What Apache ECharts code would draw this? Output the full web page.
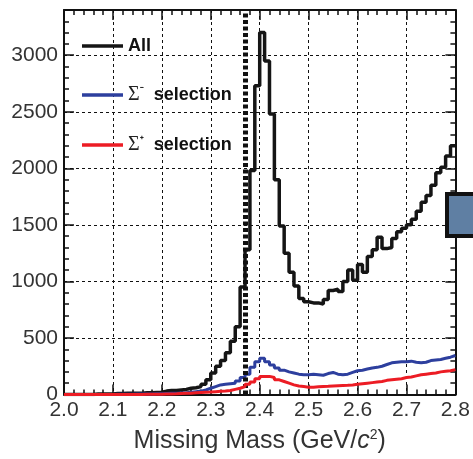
<!DOCTYPE html>
<html>
<head>
<meta charset="utf-8">
<script src="https://cdn.jsdelivr.net/npm/echarts@6/dist/echarts.min.js"></script>
<style>
  html, body { margin: 0; padding: 0; background: #fff; }
  #chart { width: 473px; height: 459px; }
</style>
</head>
<body>
<div id="chart"></div>
<script>
// Histogram binning: 80 bins of 0.01 GeV/c^2 starting at 2.00
const binStart = 2.0;
const binWidth = 0.01;

// Counts per bin, all events
const allCounts = [
  0, 0, 0, 0, 0, 0, 5, 5, 5, 5,
  8, 8, 10, 10, 12, 12, 15, 15, 18, 20,
  30, 35, 35, 40, 45, 55, 60, 70, 90, 130,
  190, 250, 300, 370, 470, 600, 950, 1280, 1980, 2730,
  3200, 2950, 2480, 1900, 1490, 1250, 1080, 960, 850, 820,
  810, 810, 800, 840, 920, 930, 910, 1000, 1100, 1010,
  1150, 1080, 1220, 1280, 1390, 1290, 1300, 1380, 1440, 1470,
  1500, 1550, 1620, 1700, 1760, 1850, 1960, 2010, 2110, 2200
];

// Counts per bin, Sigma- selection
const sigmaMinusCounts = [
  0, 0, 0, 0, 0, 0, 0, 0, 0, 0,
  2, 2, 3, 3, 4, 4, 5, 5, 6, 6,
  8, 10, 12, 14, 16, 20, 25, 30, 40, 55,
  70, 85, 90, 95, 100, 120, 150, 180, 240, 290,
  320, 290, 260, 235, 215, 200, 190, 180, 175, 175,
  180, 175, 170, 185, 195, 180, 175, 180, 195, 210,
  215, 225, 235, 240, 250, 265, 280, 285, 290, 290,
  295, 285, 280, 285, 300, 305, 310, 320, 330, 345
];

// Counts per bin, Sigma+ selection
const sigmaPlusCounts = [
  0, 0, 0, 0, 0, 0, 0, 0, 0, 0,
  0, 0, 0, 0, 0, 0, 2, 2, 3, 3,
  4, 5, 6, 8, 10, 12, 15, 18, 20, 22,
  25, 28, 30, 35, 45, 55, 70, 90, 110, 140,
  160, 160, 150, 130, 115, 100, 85, 75, 70, 65,
  65, 68, 70, 72, 75, 78, 80, 82, 85, 90,
  95, 100, 105, 110, 115, 125, 130, 135, 140, 150,
  155, 165, 175, 180, 185, 190, 200, 205, 210, 220
];

const seriesNames = ['All', 'Σ⁻ selection', 'Σ⁺ selection'];
const xTicks = ['2.0', '2.1', '2.2', '2.3', '2.4', '2.5', '2.6', '2.7', '2.8'];
const yTicks = [0, 500, 1000, 1500, 2000, 2500, 3000];
const cutValue = 2.37;

// Turn bin counts into step-line points (left edge of each bin, plus closing edge)
function toSteps(counts) {
  const pts = counts.map((c, i) => [+(binStart + i * binWidth).toFixed(3), c]);
  pts.push([+(binStart + counts.length * binWidth).toFixed(3), counts[counts.length - 1]]);
  return pts;
}

const labelFont = 'Liberation Sans';
const gridLine = { show: true, lineStyle: { color: '#111', type: [3, 3], width: 1 } };

const chart = echarts.init(document.getElementById('chart'), null, { renderer: 'canvas' });

chart.setOption({
  animation: false,
  backgroundColor: '#fff',
  grid: { left: 64, right: 16, top: 10, bottom: 59, containLabel: false },
  legend: {
    left: 77, top: 32, orient: 'vertical',
    itemWidth: 41, itemHeight: 14, itemGap: 30,
    icon: 'path://M0,6 L41,6 L41,9.5 L0,9.5 Z',
    data: seriesNames,
    formatter: function (name) {
      if (name === 'All') return '{b|All}';
      const sign = name.charAt(1);
      return '{s|Σ}{p|' + sign + '}{b|  selection}';
    },
    textStyle: {
      rich: {
        b: { fontFamily: labelFont, fontWeight: 'bold', fontSize: 18, color: '#111' },
        s: { fontFamily: 'Liberation Serif', fontSize: 20, color: '#222' },
        p: { fontFamily: labelFont, fontWeight: 'bold', fontSize: 11, color: '#222', verticalAlign: 'top', padding: [0, 0, 9, 0] }
      }
    }
  },
  xAxis: [
    {
      type: 'value', min: 2.0, max: 2.8, interval: 0.1, position: 'bottom',
      axisLine: { show: true, onZero: false, lineStyle: { color: '#111', width: 2 } },
      axisTick: { show: true, inside: true, length: 10, lineStyle: { color: '#111', width: 1.5 } },
      minorTick: { show: true, splitNumber: 5, length: 5, lineStyle: { color: '#111', width: 1.5 } },
      splitLine: gridLine,
      axisLabel: {
        margin: 5, fontFamily: labelFont, fontSize: 21, color: '#333',
        formatter: function (v) { return xTicks[Math.round((v - 2.0) * 10)]; }
      },
      name: '{t|Missing Mass (GeV/}{i|c}{sp|2}{t|)}',
      nameLocation: 'middle', nameGap: 34,
      nameTextStyle: {
        rich: {
          t: { fontFamily: labelFont, fontSize: 25, color: '#333' },
          i: { fontFamily: labelFont, fontStyle: 'italic', fontSize: 25, color: '#333' },
          sp: { fontFamily: labelFont, fontSize: 14, color: '#333', verticalAlign: 'top', padding: [0, 0, 12, 0] }
        }
      }
    },
    {
      type: 'value', min: 2.0, max: 2.8, interval: 0.1, position: 'top',
      axisLine: { show: true, onZero: false, lineStyle: { color: '#111', width: 2 } },
      axisTick: { show: true, inside: true, length: 10, lineStyle: { color: '#111', width: 1.5 } },
      minorTick: { show: true, splitNumber: 5, length: 5, lineStyle: { color: '#111', width: 1.5 } },
      splitLine: { show: false },
      axisLabel: { show: false }
    }
  ],
  yAxis: [
    {
      type: 'value', min: 0, max: 3400, interval: 500, position: 'left',
      axisLine: { show: true, onZero: false, lineStyle: { color: '#111', width: 2 } },
      axisTick: { show: true, inside: true, length: 10, lineStyle: { color: '#111', width: 1.5 } },
      minorTick: { show: true, splitNumber: 5, length: 5, lineStyle: { color: '#111', width: 1.5 } },
      splitLine: gridLine,
      axisLabel: {
        margin: 6, fontFamily: labelFont, fontSize: 21, color: '#333', showMaxLabel: false,
        formatter: function (v) { return yTicks.indexOf(v) >= 0 ? String(v) : ''; }
      }
    },
    {
      type: 'value', min: 0, max: 3400, interval: 500, position: 'right',
      axisLine: { show: true, onZero: false, lineStyle: { color: '#111', width: 2 } },
      axisTick: { show: true, inside: true, length: 10, lineStyle: { color: '#111', width: 1.5 } },
      minorTick: { show: true, splitNumber: 5, length: 5, lineStyle: { color: '#111', width: 1.5 } },
      splitLine: { show: false },
      axisLabel: { show: false }
    }
  ],
  series: [
    {
      name: seriesNames[0], type: 'line', step: 'end', symbol: 'none',
      data: toSteps(allCounts),
      lineStyle: { color: '#151515', width: 3.5 }, itemStyle: { color: '#151515' },
      z: 3,
      markLine: {
        silent: true, symbol: 'none', label: { show: false },
        lineStyle: { color: '#111', width: 5, type: [4, 2.5] },
        data: [{ xAxis: cutValue }]
      }
    },
    {
      name: seriesNames[1], type: 'line', step: 'end', symbol: 'none',
      data: toSteps(sigmaMinusCounts),
      lineStyle: { color: '#2d3f9e', width: 3 }, itemStyle: { color: '#2d3f9e' },
      z: 4
    },
    {
      name: seriesNames[2], type: 'line', step: 'end', symbol: 'none',
      data: toSteps(sigmaPlusCounts),
      lineStyle: { color: '#ec1c24', width: 3 }, itemStyle: { color: '#ec1c24' },
      z: 5
    }
  ],
  graphic: [
    {
      type: 'rect', right: -6, top: 192,
      shape: { width: 30, height: 42 },
      style: { fill: '#5f7fa3', stroke: '#111', lineWidth: 4 },
      z: 10
    }
  ]
});
</script>
</body>
</html>
